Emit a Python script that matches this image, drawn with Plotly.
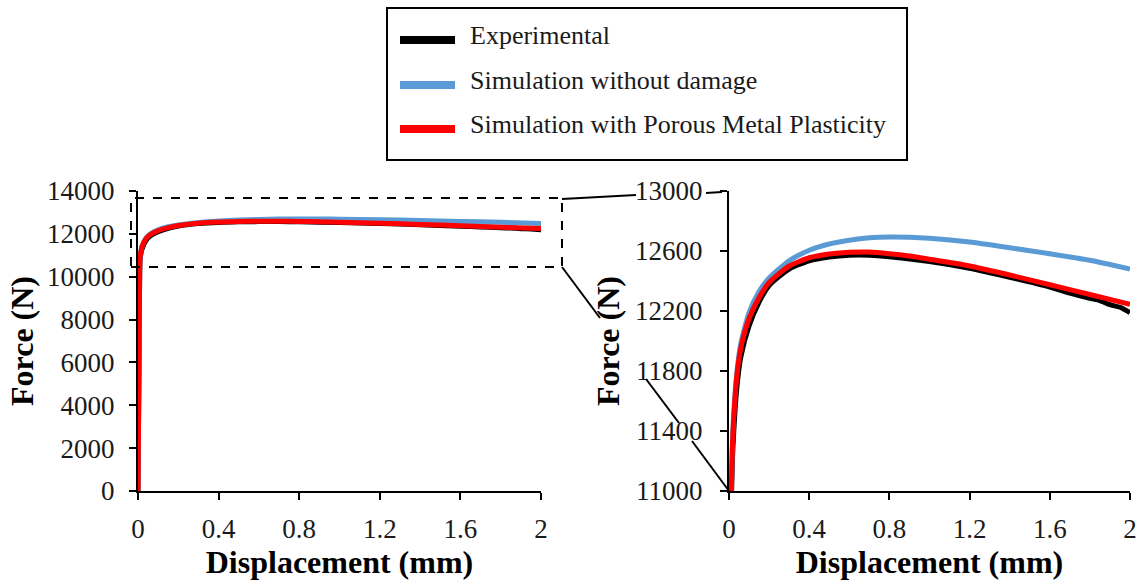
import plotly.graph_objects as go

# ---------------- data ----------------
disp_exp = [0.0, 0.004, 0.008, 0.01, 0.015, 0.02, 0.04, 0.06, 0.1, 0.15, 0.2, 0.3, 0.4, 0.5,
            0.6, 0.7, 0.8, 1.0, 1.2, 1.4, 1.6, 1.7, 1.8, 1.85, 1.9, 1.95, 2.0]
force_exp = [0, 5000, 9800, 10800, 11100, 11300, 11700, 11900, 12100, 12260, 12370, 12480, 12535, 12560,
             12572, 12572, 12562, 12530, 12485, 12425, 12360, 12320, 12285, 12270, 12242, 12225, 12190]

disp_sim = [0.0, 0.004, 0.008, 0.01, 0.015, 0.02, 0.04, 0.06, 0.1, 0.15, 0.2, 0.3, 0.4, 0.5,
            0.6, 0.7, 0.8, 0.9, 1.0, 1.2, 1.4, 1.6, 1.8, 2.0]
force_nodamage = [0, 5000, 9900, 10900, 11220, 11420, 11800, 11990, 12190, 12330, 12420, 12535, 12605, 12647,
                  12672, 12688, 12694, 12692, 12685, 12660, 12622, 12582, 12538, 12480]
force_porous = [0, 5000, 9900, 10900, 11200, 11400, 11780, 11960, 12150, 12290, 12390, 12500, 12555, 12580,
                12592, 12593, 12582, 12566, 12545, 12500, 12440, 12375, 12310, 12245]

series_names = ["Experimental", "Simulation without damage", "Simulation with Porous Metal Plasticity"]
series_colors = ["#000000", "#5B9BD5", "#FF0000"]

x_ticks = [0, 0.4, 0.8, 1.2, 1.6, 2]
x_tick_text = ["0", "0.4", "0.8", "1.2", "1.6", "2"]
y_ticks_left = [0, 2000, 4000, 6000, 8000, 10000, 12000, 14000]
y_ticks_right = [11000, 11400, 11800, 12200, 12600, 13000]

# ---------------- figure ----------------
W, H = 1145, 583
SERIF = "Liberation Serif, Times New Roman, serif"

def px(x, y):
    return x / W, 1 - y / H

fig = go.Figure()
data = [(disp_exp, force_exp), (disp_sim, force_nodamage), (disp_sim, force_porous)]
for axes in [("x", "y"), ("x2", "y2")]:
    for (xs, ys), name, col in zip(data, series_names, series_colors):
        fig.add_trace(go.Scatter(x=xs, y=ys, mode="lines", name=name,
                                 line=dict(color=col, width=5, shape="spline", smoothing=0.6),
                                 xaxis=axes[0], yaxis=axes[1], showlegend=False,
                                 hoverinfo="x+y"))

y_dom = [1 - 491 / H, 1 - 191 / H]
axis_common = dict(showline=True, linecolor="black", linewidth=2, ticks="outside",
                   ticklen=7, tickwidth=2, tickcolor="black", showgrid=False, zeroline=False,
                   automargin=False, tickformat="d",
                   tickfont=dict(family=SERIF, size=27, color="#1a1a1a"))
title_font = dict(family=SERIF, size=32, color="black", weight="bold")

fig.update_layout(
    width=W, height=H,
    margin=dict(l=0, r=0, t=0, b=0, autoexpand=False),
    paper_bgcolor="white", plot_bgcolor="white",
    showlegend=False,
    xaxis=dict(domain=[138 / W, 541 / W], range=[0, 2], tickvals=x_ticks, ticktext=x_tick_text,
               ticklabelstandoff=6, anchor="y",
               title=dict(text="Displacement (mm)", font=title_font, standoff=2), **axis_common),
    yaxis=dict(domain=y_dom, range=[0, 14000], tickvals=y_ticks_left,
               ticktext=[str(v) for v in y_ticks_left], anchor="x",
               ticklabelstandoff=9,
               title=dict(text="Force (N)", font=title_font, standoff=4), **axis_common),
    xaxis2=dict(domain=[729 / W, 1130 / W], range=[0, 2], tickvals=x_ticks, ticktext=x_tick_text,
                ticklabelstandoff=6, anchor="y2",
                title=dict(text="Displacement (mm)", font=title_font, standoff=2), **axis_common),
    yaxis2=dict(domain=y_dom, range=[11000, 13000], tickvals=y_ticks_right,
                ticktext=[str(v) for v in y_ticks_right], anchor="x2",
                ticklabelstandoff=12,
                title=dict(text="Force (N)", font=title_font, standoff=6), **axis_common),
)

shapes = []
# dashed zoom rectangle on left plot
x0, y0 = px(131, 198)
x1, y1 = px(562, 267)
shapes.append(dict(type="rect", xref="paper", yref="paper", x0=x0, y0=y1, x1=x1, y1=y0,
                   line=dict(color="black", width=2, dash="dash"), layer="above"))
# connector lines (interrupted behind labels, like the original)
segs = [((562, 199), (636, 195)), ((706, 193), (722, 192)),
        ((562, 267), (600, 318)), ((646, 379), (679, 423)), ((692, 441), (729, 491))]
for (a, b) in segs:
    ax_, ay_ = px(*a)
    bx_, by_ = px(*b)
    shapes.append(dict(type="line", xref="paper", yref="paper", x0=ax_, y0=ay_, x1=bx_, y1=by_,
                       line=dict(color="black", width=2), layer="above"))

# legend box
lx0, ly0 = px(387, 8)
lx1, ly1 = px(907, 160)
shapes.append(dict(type="rect", xref="paper", yref="paper", x0=lx0, y0=ly1, x1=lx1, y1=ly0,
                   line=dict(color="black", width=2), fillcolor="white", layer="above"))
annotations = []
rows_y = [40, 85, 129]
for name, col, ry in zip(series_names, series_colors, rows_y):
    sx0, sy = px(400, ry)
    sx1, _ = px(455, ry)
    shapes.append(dict(type="line", xref="paper", yref="paper", x0=sx0, y0=sy, x1=sx1, y1=sy,
                       line=dict(color=col, width=8), layer="above"))
    tx, ty = px(468, ry - 4)
    annotations.append(dict(xref="paper", yref="paper", x=tx, y=ty, text=name, showarrow=False,
                            xanchor="left", yanchor="middle",
                            font=dict(family=SERIF, size=26, color="#1a1a1a")))

fig.update_layout(shapes=shapes, annotations=annotations)
fig.write_html("out.html", config={"displayModeBar": False},
               post_script="document.body.style.margin='0';document.body.style.overflow='hidden';")
